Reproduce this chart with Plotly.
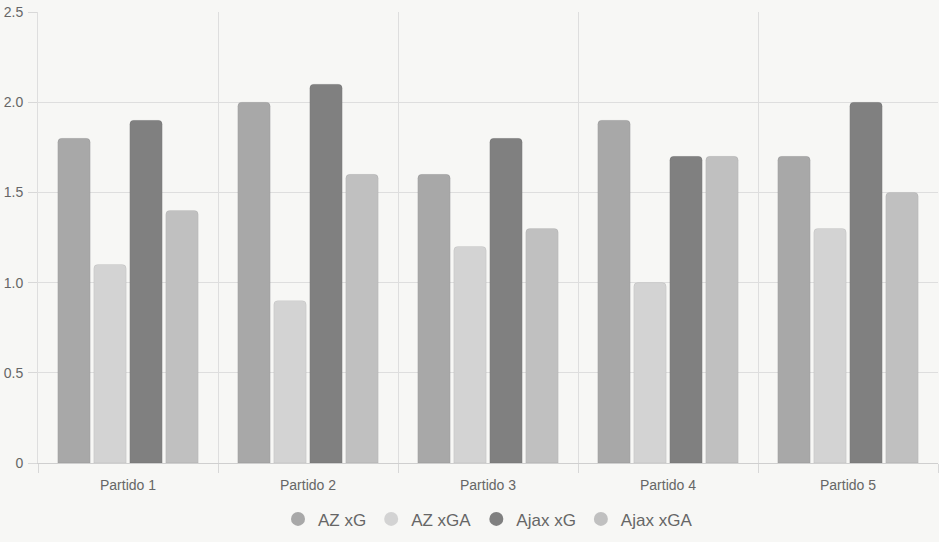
import plotly.graph_objects as go

categories = ["Partido 1", "Partido 2", "Partido 3", "Partido 4", "Partido 5"]
series_names = ["AZ xG", "AZ xGA", "Ajax xG", "Ajax xGA"]
az_xg = [1.8, 2.0, 1.6, 1.9, 1.7]
az_xga = [1.1, 0.9, 1.2, 1.0, 1.3]
ajax_xg = [1.9, 2.1, 1.8, 1.7, 2.0]
ajax_xga = [1.4, 1.6, 1.3, 1.7, 1.5]
colors = ["#a8a8a8", "#d3d3d3", "#808080", "#c0c0c0"]
y_tickvals = [0, 0.5, 1.0, 1.5, 2.0, 2.5]
y_ticktext = ["0", "0.5", "1.0", "1.5", "2.0", "2.5"]

values = [az_xg, az_xga, ajax_xg, ajax_xga]

fig = go.Figure()
for name, vals, col in zip(series_names, values, colors):
    fig.add_trace(go.Bar(
        x=categories, y=vals, name=name, showlegend=False,
        marker=dict(color=col, cornerradius=4, line=dict(color="rgba(0,0,0,0.06)", width=1)),
        hoverinfo="x+y+name",
    ))
for name, col in zip(series_names, colors):
    fig.add_trace(go.Scatter(
        x=[None], y=[None], mode="markers", name=name,
        marker=dict(color=col, size=14, symbol="circle"),
    ))

font = "Liberation Sans, Arial, sans-serif"
fig.update_layout(
    width=939, height=542,
    paper_bgcolor="#f7f7f5", plot_bgcolor="#f7f7f5",
    margin=dict(l=38, r=1, t=12, b=79),
    barmode="group", bargap=0.2, bargroupgap=0.1,
    font=dict(family=font, color="#666666", size=14),
    legend=dict(orientation="h", x=0.5, xanchor="center", y=-0.125, yanchor="middle",
                font=dict(size=17, color="#666666"), itemsizing="trace"),
    xaxis=dict(
        tickson="boundaries", ticks="outside", ticklen=9, tickcolor="#d8d8d8",
        showgrid=True, gridcolor="#dedede", gridwidth=1,
        showline=True, linecolor="#cfcfcf", linewidth=1,
        tickfont=dict(size=14, color="#666666"), zeroline=False,
        ticklabelstandoff=9,
    ),
    yaxis=dict(
        range=[0, 2.5], tickvals=y_tickvals, ticktext=y_ticktext,
        ticks="outside", ticklen=9, tickcolor="#d8d8d8",
        showgrid=True, gridcolor="#dedede", gridwidth=1,
        showline=True, linecolor="#dedede", zeroline=False,
        tickfont=dict(size=14, color="#666666"),
        ticklabelstandoff=2,
    ),
)
fig.write_html("out.html")
